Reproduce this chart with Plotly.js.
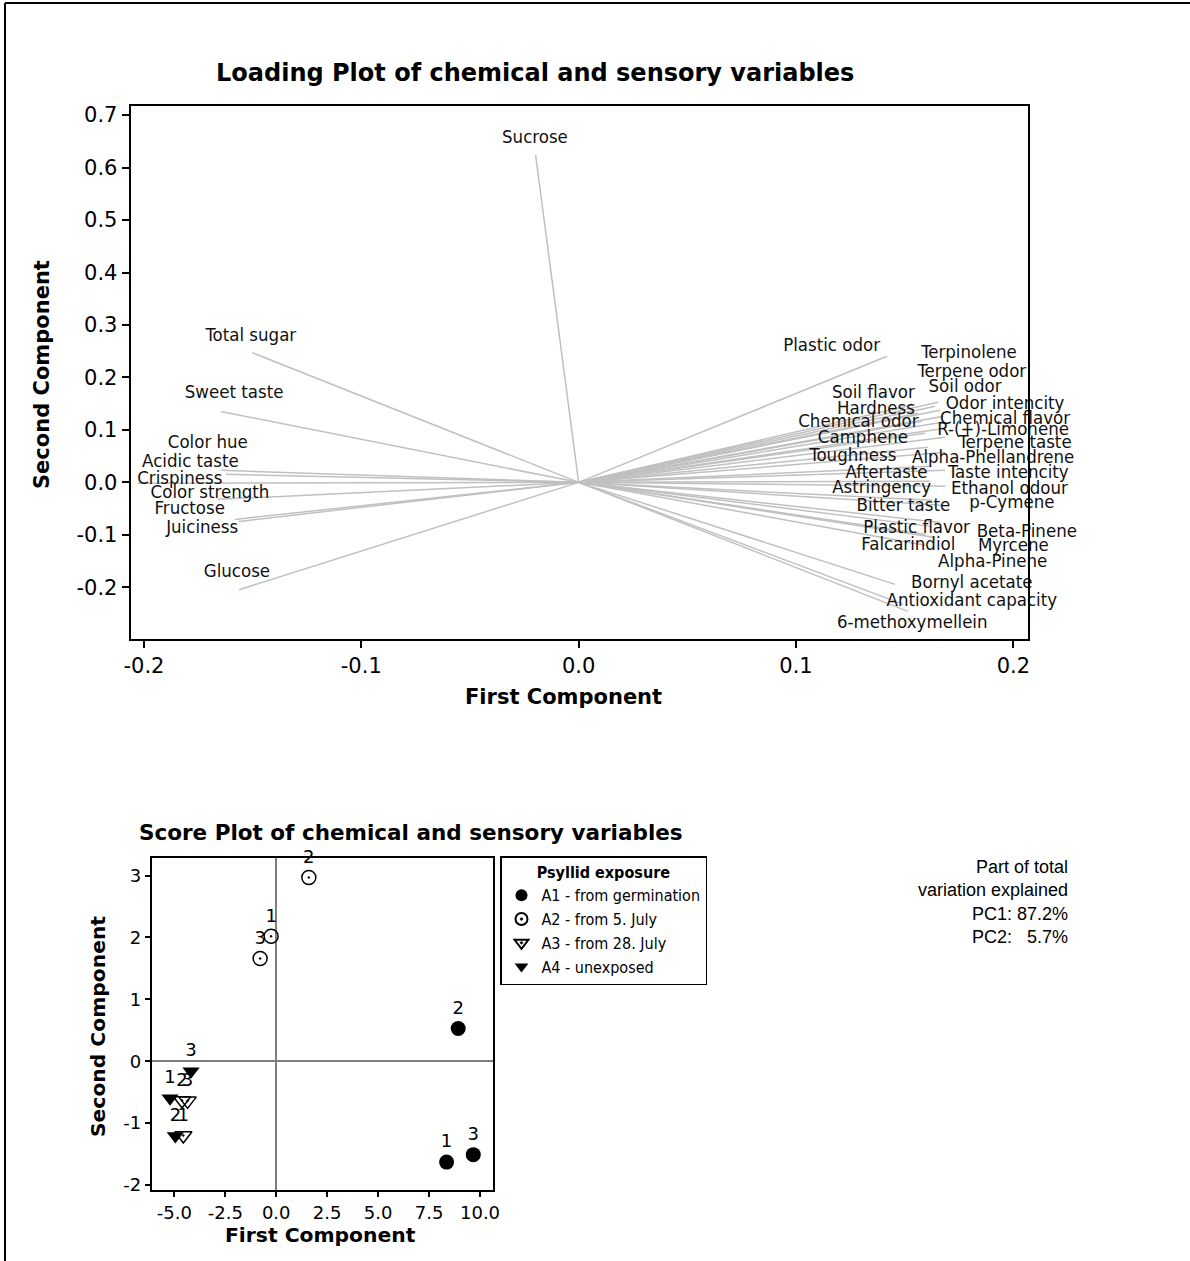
<!DOCTYPE html>
<html><head><meta charset="utf-8">
<script src="https://cdn.plot.ly/plotly-3.0.1.min.js"></script>
<style>html,body{margin:0;padding:0;background:#fff}#chart{width:1190px;height:1261px}</style>
</head><body><div id="chart"></div>
<script>
// ---- Loading plot data ----
const variables = ["Sucrose","Total sugar","Sweet taste","Color hue","Acidic taste","Crispiness","Color strength","Fructose","Juiciness","Glucose",
  "Plastic odor","Terpinolene","Terpene odor","Soil odor","Soil flavor","Hardness","Odor intencity","Chemical odor","Chemical flavor","R-(+)-Limonene",
  "Camphene","Terpene taste","Toughness","Alpha-Phellandrene","Aftertaste","Taste intencity","Astringency","Ethanol odour","Bitter taste","p-Cymene",
  "Plastic flavor","Beta-Pinene","Falcarindiol","Myrcene","Alpha-Pinene","Bornyl acetate","Antioxidant capacity","6-methoxymellein"];
const pc1Loading = [-0.0198,-0.150,-0.1646,-0.1646,-0.1623,-0.2028,-0.166,-0.1582,-0.1563,-0.1562,
  0.1419,0.1653,0.164,0.1663,0.1548,0.1561,0.1677,0.158,0.1672,0.1686,
  0.1594,0.1686,0.1607,0.1686,0.1626,0.1686,0.1617,0.1686,0.1626,0.1686,
  0.1617,0.1663,0.1598,0.164,0.1594,0.1456,0.1515,0.1493];
const pc2Loading = [0.624,0.247,0.135,0.0229,0.0153,-0.0019,-0.0324,-0.0706,-0.0744,-0.2046,
  0.2403,0.1526,0.145,0.1373,0.1487,0.1316,0.1259,0.1163,0.1144,0.103,
  0.0934,0.0858,0.0667,0.0572,0.0305,0.0229,0.0019,-0.0076,-0.0343,-0.0439,
  -0.0839,-0.0763,-0.0992,-0.1049,-0.1201,-0.1945,-0.246,-0.2326];
// label anchor positions (data units) as placed in the figure
const labelPC1 = [-0.0201,-0.1508,-0.1585,-0.1706,-0.1786,-0.1835,-0.1696,-0.1789,-0.1732,-0.1572,
  0.1164,0.1796,0.1809,0.1778,0.1356,0.1368,0.1962,0.1287,0.1962,0.1953,
  0.1308,0.2008,0.1262,0.1907,0.1417,0.1977,0.1394,0.1982,0.1494,0.1993,
  0.1555,0.2062,0.1517,0.2000,0.1905,0.1809,0.1809,0.1535];
const labelPC2 = [0.656,0.2784,0.1697,0.0744,0.0387,0.0057,-0.0215,-0.0515,-0.0871,-0.1722,
  0.2593,0.2466,0.2103,0.1806,0.1703,0.1392,0.1487,0.1150,0.1196,0.0992,
  0.0839,0.0738,0.0496,0.0452,0.0177,0.0177,-0.0120,-0.0139,-0.0458,-0.0395,
  -0.0883,-0.0948,-0.1201,-0.1220,-0.1520,-0.1920,-0.2264,-0.2683];
const loadXTicks = [-0.2,-0.1,0.0,0.1,0.2];
const loadXTickText = ["-0.2","-0.1","0.0","0.1","0.2"];
const loadYTicks = [-0.2,-0.1,0.0,0.1,0.2,0.3,0.4,0.5,0.6,0.7];
const loadYTickText = ["-0.2","-0.1","0.0","0.1","0.2","0.3","0.4","0.5","0.6","0.7"];

// ---- Score plot data ----
const groupNames = ["A1 - from germination","A2 - from 5. July","A3 - from 28. July","A4 - unexposed"];
const replicates = ["1","2","3"];
const a1PC1 = [8.36, 8.93, 9.67];   const a1PC2 = [-1.63, 0.53, -1.51];
const a2PC1 = [-0.25, 1.60, -0.79]; const a2PC2 = [2.02, 2.97, 1.66];
const a3PC1 = [-4.56, -4.62, -4.35]; const a3PC2 = [-1.20, -0.635, -0.64];
const a4PC1 = [-5.21, -4.95, -4.18]; const a4PC2 = [-0.60, -1.21, -0.16];
const scoreXTicks = [-5,-2.5,0,2.5,5,7.5,10];
const scoreXTickText = ["-5.0","-2.5","0.0","2.5","5.0","7.5","10.0"];
const scoreYTicks = [-2,-1,0,1,2,3];
const scoreYTickText = ["-2","-1","0","1","2","3"];
const varianceText = ["Part of total","variation explained","PC1: 87.2%","PC2:   5.7%"];

const FONT = "DejaVu Sans, Verdana, sans-serif";
const FONTC = "DejaVu Sans Condensed, DejaVu Sans, sans-serif";

// build loading segments from origin
const segX = [], segY = [];
for (let i = 0; i < variables.length; i++) { segX.push(0, pc1Loading[i], null); segY.push(0, pc2Loading[i], null); }

const traces = [
  {type:"scatter", mode:"lines", x:segX, y:segY, xaxis:"x", yaxis:"y",
   line:{color:"#c0c0c0", width:1.5}, showlegend:false, hoverinfo:"skip"},
  {type:"scatter", mode:"text", x:labelPC1, y:labelPC2, text:variables, xaxis:"x", yaxis:"y",
   textposition:"middle center", textfont:{family:FONTC, size:18.5, color:"#111"}, showlegend:false, hoverinfo:"skip", cliponaxis:false},
  {type:"scatter", mode:"markers+text", name:groupNames[0], x:a1PC1, y:a1PC2, text:replicates, xaxis:"x2", yaxis:"y2",
   textposition:"top center", textfont:{family:FONT, size:18, color:"#000"},
   marker:{symbol:"circle", size:15, color:"#000"}, cliponaxis:false},
  {type:"scatter", mode:"markers+text", name:groupNames[1], x:a2PC1, y:a2PC2, text:replicates, xaxis:"x2", yaxis:"y2",
   textposition:"top center", textfont:{family:FONT, size:18, color:"#000"},
   marker:{symbol:"circle-open-dot", size:14, color:"#000", line:{width:1.5}}, cliponaxis:false},
  {type:"scatter", mode:"markers+text", name:groupNames[2], x:a3PC1, y:a3PC2, text:replicates, xaxis:"x2", yaxis:"y2",
   textposition:"top center", textfont:{family:FONT, size:18, color:"#000"},
   marker:{symbol:"triangle-down-open-dot", size:15, color:"#000", line:{width:1.5}}, cliponaxis:false},
  {type:"scatter", mode:"markers+text", name:groupNames[3], x:a4PC1, y:a4PC2, text:replicates, xaxis:"x2", yaxis:"y2",
   textposition:"top center", textfont:{family:FONT, size:18, color:"#000"},
   marker:{symbol:"triangle-down", size:15, color:"#000"}, cliponaxis:false}
];

const axBase = {showline:true, mirror:true, linecolor:"#000", linewidth:2, ticks:"outside", tickcolor:"#000",
  tickwidth:2, showgrid:false, fixedrange:true};

const layout = {
  width:1190, height:1261, margin:{l:0,r:0,t:0,b:0}, paper_bgcolor:"#fff", plot_bgcolor:"#fff",
  font:{family:FONT, color:"#000"},
  xaxis: Object.assign({}, axBase, {domain:[0.1098,0.8636], range:[-0.2061,0.2066], anchor:"y",
    tickvals:loadXTicks, ticktext:loadXTickText, ticklen:7, zeroline:false, tickfont:{size:21, family:FONT}}),
  yaxis: Object.assign({}, axBase, {domain:[0.4935,0.9162], range:[-0.298,0.718], anchor:"x",
    tickvals:loadYTicks, ticktext:loadYTickText, ticklen:7, zeroline:false, tickfont:{size:21, family:FONT}}),
  xaxis2: Object.assign({}, axBase, {domain:[0.1275,0.4145], range:[-6.11,10.65], anchor:"y2",
    tickvals:scoreXTicks, ticktext:scoreXTickText, ticklen:5, zeroline:true, zerolinecolor:"#7f7f7f", zerolinewidth:1.5,
    tickfont:{size:18, family:FONT}}),
  yaxis2: Object.assign({}, axBase, {domain:[0.0563,0.3194], range:[-2.081,3.281], anchor:"x2",
    tickvals:scoreYTicks, ticktext:scoreYTickText, ticklen:5, zeroline:true, zerolinecolor:"#7f7f7f", zerolinewidth:1.5,
    tickfont:{size:18, family:FONT}}),
  showlegend:true,
  legend:{x:500/1190, y:1-856/1261, xanchor:"left", yanchor:"top", bgcolor:"#fff", bordercolor:"#000", borderwidth:1.5,
    font:{family:FONTC, size:16, color:"#000"}, itemsizing:"constant", tracegroupgap:0,
    title:{text:"<b>Psyllid exposure</b>", side:"top center", font:{family:FONTC, size:16}}},
  annotations:[
    {xref:"paper", yref:"paper", x:535/1190, y:1-73/1261, xanchor:"center", yanchor:"middle", showarrow:false,
     text:"<b>Loading Plot of chemical and sensory variables</b>", font:{family:FONT, size:24}},
    {xref:"paper", yref:"paper", x:563/1190, y:1-697/1261, xanchor:"center", yanchor:"middle", showarrow:false,
     text:"<b>First Component</b>", font:{family:FONT, size:21}},
    {xref:"paper", yref:"paper", x:42/1190, y:1-375/1261, xanchor:"center", yanchor:"middle", showarrow:false, textangle:-90,
     text:"<b>Second Component</b>", font:{family:FONT, size:21}},
    {xref:"paper", yref:"paper", x:411/1190, y:1-832/1261, xanchor:"center", yanchor:"middle", showarrow:false,
     text:"<b>Score Plot of chemical and sensory variables</b>", font:{family:FONT, size:21.5}},
    {xref:"paper", yref:"paper", x:320/1190, y:1-1235/1261, xanchor:"center", yanchor:"middle", showarrow:false,
     text:"<b>First Component</b>", font:{family:FONT, size:20.3}},
    {xref:"paper", yref:"paper", x:98/1190, y:1-1027/1261, xanchor:"center", yanchor:"middle", showarrow:false, textangle:-90,
     text:"<b>Second Component</b>", font:{family:FONT, size:20.3}},
    {xref:"paper", yref:"paper", x:1070/1190, y:1-855/1261, xanchor:"right", yanchor:"top", showarrow:false, align:"right",
     text:varianceText.join("<br>"), font:{family:"Liberation Sans Narrow, Arial Narrow, Liberation Sans, sans-serif", size:18}}
  ],
  shapes:[
    {type:"line", xref:"paper", yref:"paper", x0:5/1190, x1:5/1190, y0:0, y1:1-3/1261, line:{color:"#000", width:2}},
    {type:"line", xref:"paper", yref:"paper", x0:5/1190, x1:1, y0:1-3/1261, y1:1-3/1261, line:{color:"#000", width:2}}
  ]
};

Plotly.newPlot("chart", traces, layout, {staticPlot:true, displayModeBar:false});
</script>
</body></html>
